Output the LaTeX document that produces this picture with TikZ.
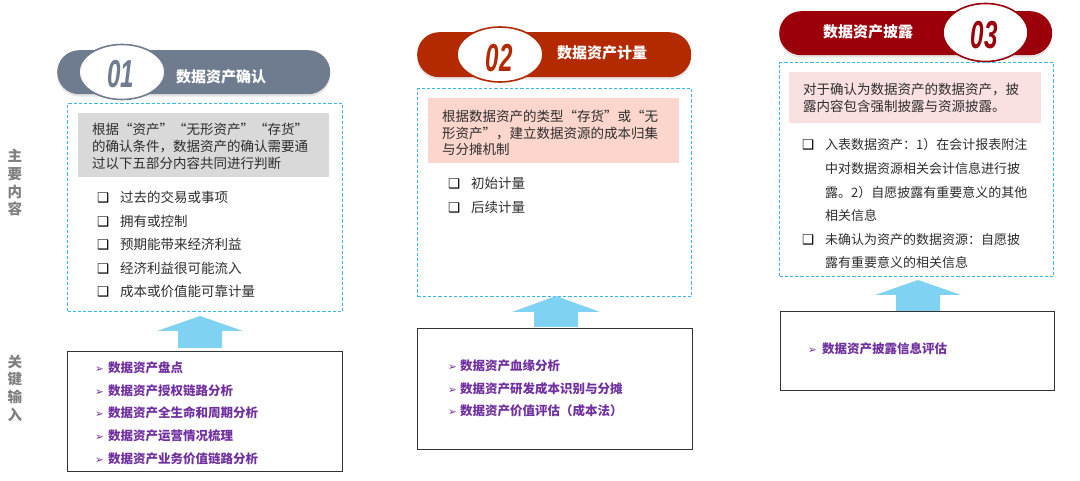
\documentclass[tikz,border=0pt]{standalone}
\usepackage{graphicx}
\usepackage{fontspec}
\setmainfont{Noto Sans CJK SC}
\newfontfamily\fwq[RawFeature=+fwid]{Noto Sans CJK SC}
\newfontfamily\djv{DejaVu Sans}
\newfontfamily\numf{Liberation Sans}
\usetikzlibrary{shadows,calc,shapes.geometric}
\definecolor{cgray}{RGB}{111,124,143}
\definecolor{cred}{RGB}{180,42,0}
\definecolor{cdark}{RGB}{155,0,10}
\definecolor{dashblue}{RGB}{60,180,232}
\definecolor{arrowblue}{RGB}{128,210,242}
\definecolor{graybox}{RGB}{217,217,217}
\definecolor{pinkA}{RGB}{252,214,204}
\definecolor{pinkB}{RGB}{251,224,226}
\definecolor{txt}{RGB}{45,45,45}
\definecolor{ipurple}{RGB}{112,48,160}
\definecolor{lblgray}{RGB}{127,127,127}
\newcommand{\cbox}{{\djv\fontsize{13.5}{13.5}\selectfont\color{black}❑}}
\newcommand{\parr}{{\djv\fontsize{10.5}{10.5}\selectfont ➢}}
\newcommand{\ci}[1]{\makebox[23pt][l]{\cbox}#1}
\newcommand{\cj}[1]{\hspace*{23pt}#1}
\newcommand{\pa}[1]{\makebox[13pt][l]{\parr}#1}
\newcommand{\numtxt}[1]{{\numf\bfseries\itshape\fontsize{39}{39}\selectfont\scalebox{0.62}[1]{#1}}}
\begin{document}
\begin{tikzpicture}[x=1pt,y=-1pt,
  banner/.style={rectangle, rounded corners=22pt, minimum height=44pt, anchor=north west, inner sep=0pt,
    drop shadow={opacity=0.2, shadow xshift=0pt, shadow yshift=-2.5pt}},
  numell/.style={ellipse, fill=white, line width=1.6pt, minimum width=86pt, inner sep=0pt},
  titletxt/.style={text=white, font=\bfseries\fontsize{15}{15}\selectfont, inner sep=0pt},
  dashbox/.style={draw=dashblue, dashed, dash pattern=on 3.2pt off 2pt, line width=1.1pt, anchor=north west, inner sep=0pt},
  inbox/.style={draw=black!80, line width=1.3pt, anchor=north west, inner sep=0pt},
  para/.style={anchor=base west, inner sep=0pt, align=left, text=txt},
  listtxt/.style={anchor=base west, inner sep=0pt, align=left, text=txt, font=\fontsize{13.5}{23.6}\selectfont},
  intxt/.style={anchor=base west, inner sep=0pt, align=left, text=ipurple, font=\bfseries\fontsize{12.5}{22.7}\selectfont},
  sidelbl/.style={anchor=base, inner sep=0pt, align=center, text=lblgray, font=\bfseries\fontsize{14.5}{17.6}\selectfont},
  blk/.style={fill=arrowblue}
]
\useasboundingbox (0,0) rectangle (1080,481);
\fill[white] (0,0) rectangle (1080,481);

% side labels (anchor = baseline of last line)
\node[sidelbl] (lblA) at (15,214.8) {主\\要\\内\\容};
\node[sidelbl] (lblB) at (15,420) {关\\键\\输\\入};

% ===== column 1 =====
\node[banner, fill=cgray, minimum width=273pt] (b1) at (57,50) {};
\node[numell, draw=cgray, minimum height=55pt] (e1) at (122,72) {};
\node[inner sep=0pt, text=cgray] (n1) at (121,74) {\numtxt{01}};
\node[titletxt] (t1) at (221,77) {数据资产确认};
\node[dashbox, minimum width=275pt, minimum height=208pt] (d1) at (67,103) {};
\node[fill=graybox, anchor=north west, minimum width=251pt, minimum height=64pt, inner sep=0pt] (g1) at (78,113) {};
\node[para, font=\fwq\fontsize{13.5}{16.7}\selectfont] (g1t) at (92,168.4)
  {\makebox[213pt][l]{根据“资产”\hfill“无形资产”\hfill“存货”}\\的确认条件，数据资产的确认需要通\\过以下五部分内容共同进行判断};
\node[listtxt, font=\fontsize{13.5}{23.5}\selectfont] (l1) at (97,297)
  {\ci{过去的交易或事项}\\\ci{拥有或控制}\\\ci{预期能带来经济利益}\\\ci{经济利益很可能流入}\\\ci{成本或价值能可靠计量}};
\node[inbox, minimum width=275pt, minimum height=120pt] (i1) at (67,351) {};
\node[intxt] (it1) at (95,463.3)
  {\pa{数据资产盘点}\\\pa{数据资产授权链路分析}\\\pa{数据资产全生命和周期分析}\\\pa{数据资产运营情况梳理}\\\pa{数据资产业务价值链路分析}};
\coordinate (a1) at (200,316);
\fill[blk] (a1) -- ++(43,15) -- ++(-21,0) -- ++(0,17) -- ++(-44,0) -- ++(0,-17) -- ++(-21,0) -- cycle;

% ===== column 2 =====
\node[banner, fill=cred, minimum width=274pt, minimum height=45pt] (b2) at (417,32) {};
\node[numell, draw=cred, minimum height=55pt] (e2) at (500,54.5) {};
\node[inner sep=0pt, text=cred] (n2) at (499,58) {\numtxt{02}};
\node[titletxt] (t2) at (602,53) {数据资产计量};
\node[dashbox, minimum width=274pt, minimum height=208pt] (d2) at (417,88) {};
\node[fill=pinkA, anchor=north west, minimum width=251pt, minimum height=65pt, inner sep=0pt] (p2) at (428,98) {};
\node[para, font=\fwq\fontsize{13.5}{16.5}\selectfont] (p2t) at (442,155)
  {根据数据资产的类型“存货”或“无\\形资产”，建立数据资源的成本归集\\与分摊机制};
\node[listtxt, font=\fontsize{13.5}{24}\selectfont] (l2) at (448,213)
  {\ci{初始计量}\\\ci{后续计量}};
\node[inbox, minimum width=275pt, minimum height=121pt] (i2) at (417,328) {};
\node[intxt, font=\bfseries\fontsize{12.5}{22.5}\selectfont] (it2) at (448,415.5)
  {\makebox[12pt][l]{\parr}数据资产血缘分析\\\makebox[12pt][l]{\parr}数据资产研发成本识别与分摊\\\makebox[12pt][l]{\parr}数据资产价值评估（成本法）};
\coordinate (a2) at (556,296);
\fill[blk] (a2) -- ++(44,16) -- ++(-22,0) -- ++(0,15) -- ++(-44,0) -- ++(0,-15) -- ++(-22,0) -- cycle;

% ===== column 3 =====
\node[banner, fill=cdark, minimum width=273pt] (b3) at (779,11) {};
\node[titletxt] (t3) at (868,32) {数据资产披露};
\node[numell, draw=cdark, minimum width=85pt, minimum height=58pt] (e3) at (985.5,32.5) {};
\node[inner sep=0pt, text=cdark] (n3) at (984,35) {\numtxt{03}};
\node[dashbox, minimum width=274pt, minimum height=214pt] (d3) at (779,62) {};
\node[fill=pinkB, anchor=north west, minimum width=252pt, minimum height=51pt, inner sep=0pt] (p3) at (789,72) {};
\node[para, font=\fontsize{13.5}{17}\selectfont] (p3t) at (803,112)
  {对于确认为数据资产的数据资产，披\\露内容包含强制披露与资源披露。};
\node[listtxt, font=\fontsize{13}{23.6}\selectfont] (l3) at (802,268)
  {\ci{入表数据资产：1）在会计报表附注}\\\cj{中对数据资源相关会计信息进行披}\\\cj{露。2）自愿披露有重要意义的其他}\\\cj{相关信息}\\\ci{未确认为资产的数据资源：自愿披}\\\cj{露有重要意义的相关信息}};
\node[inbox, minimum width=274pt, minimum height=79pt] (i3) at (780,311) {};
\node[intxt] (it3) at (808,353.5) {\makebox[14pt][l]{\parr}数据资产披露信息评估};
\coordinate (a3) at (918,280);
\fill[blk] (a3) -- ++(43,15) -- ++(-21,0) -- ++(0,16) -- ++(-44,0) -- ++(0,-16) -- ++(-21,0) -- cycle;
\end{tikzpicture}
\end{document}
